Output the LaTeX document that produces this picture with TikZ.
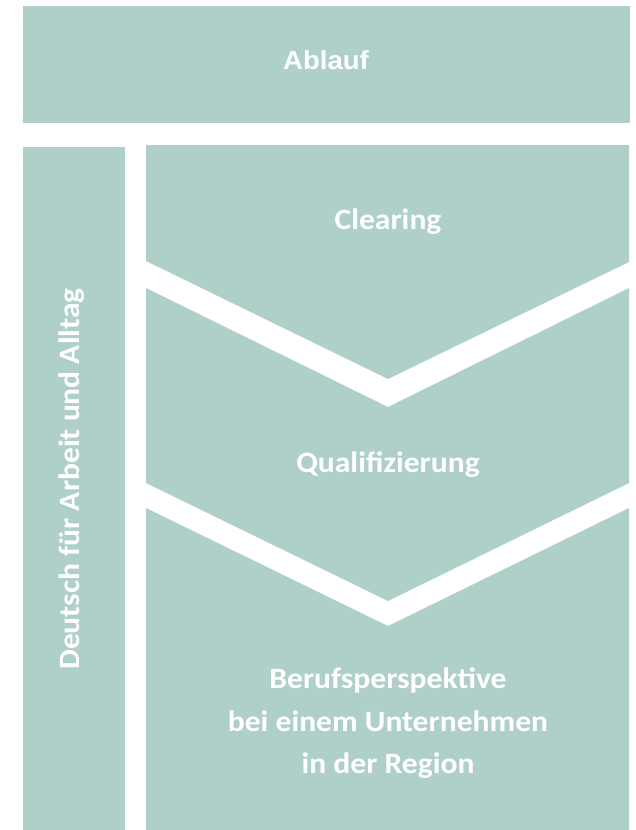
\documentclass[tikz,border=0pt]{standalone}
\usepackage{fontspec}
\usepackage{graphicx}
\setmainfont{Carlito}
\newfontfamily\arialfont{Liberation Sans}
\definecolor{teal1}{HTML}{AFCFC9}
\newcommand{\widetxt}[1]{\scalebox{1.07}[1]{#1}}
\begin{document}
\begin{tikzpicture}[x=1pt,y=-1pt,
  panel/.style={fill=teal1,draw=none},
  lbl/.style={text=white,font=\fontsize{29.5}{36}\selectfont\bfseries,anchor=base,inner sep=0pt,align=center}]
\useasboundingbox (0,0) rectangle (636,830);
% top header
\fill[panel] (23,6) rectangle (630,123);
% left bar
\fill[panel] (23,147) rectangle (125,830);
% clearing
\fill[panel] (146,145) -- (629,145) -- (629,262) -- (388,379) -- (146,261) -- cycle;
% qualifizierung
\fill[panel] (146,288) -- (388,407) -- (629,288) -- (629,483) -- (388,601) -- (146,483) -- cycle;
% berufsperspektive
\fill[panel] (146,508) -- (388,626) -- (629,508) -- (629,830) -- (146,830) -- cycle;
\node[lbl,font=\fontsize{26}{32}\selectfont\arialfont\bfseries] (ablauf) at (326,69) {\scalebox{1.06}[1]{Ablauf}};
\node[lbl] (clearing) at (388,229) {\widetxt{Clearing}};
\node[lbl] (quali) at (388,472) {\widetxt{Qualifizierung}};
\node[lbl] (beruf1) at (388,688) {\widetxt{Berufsperspektive}};
\node[lbl] (beruf2) at (388,731) {\widetxt{bei einem Unternehmen}};
\node[lbl] (beruf3) at (388,773) {\widetxt{in der Region}};
\node[lbl,rotate=90] (deutsch) at (79,479) {\widetxt{Deutsch für Arbeit und Alltag}};
\end{tikzpicture}
\end{document}
